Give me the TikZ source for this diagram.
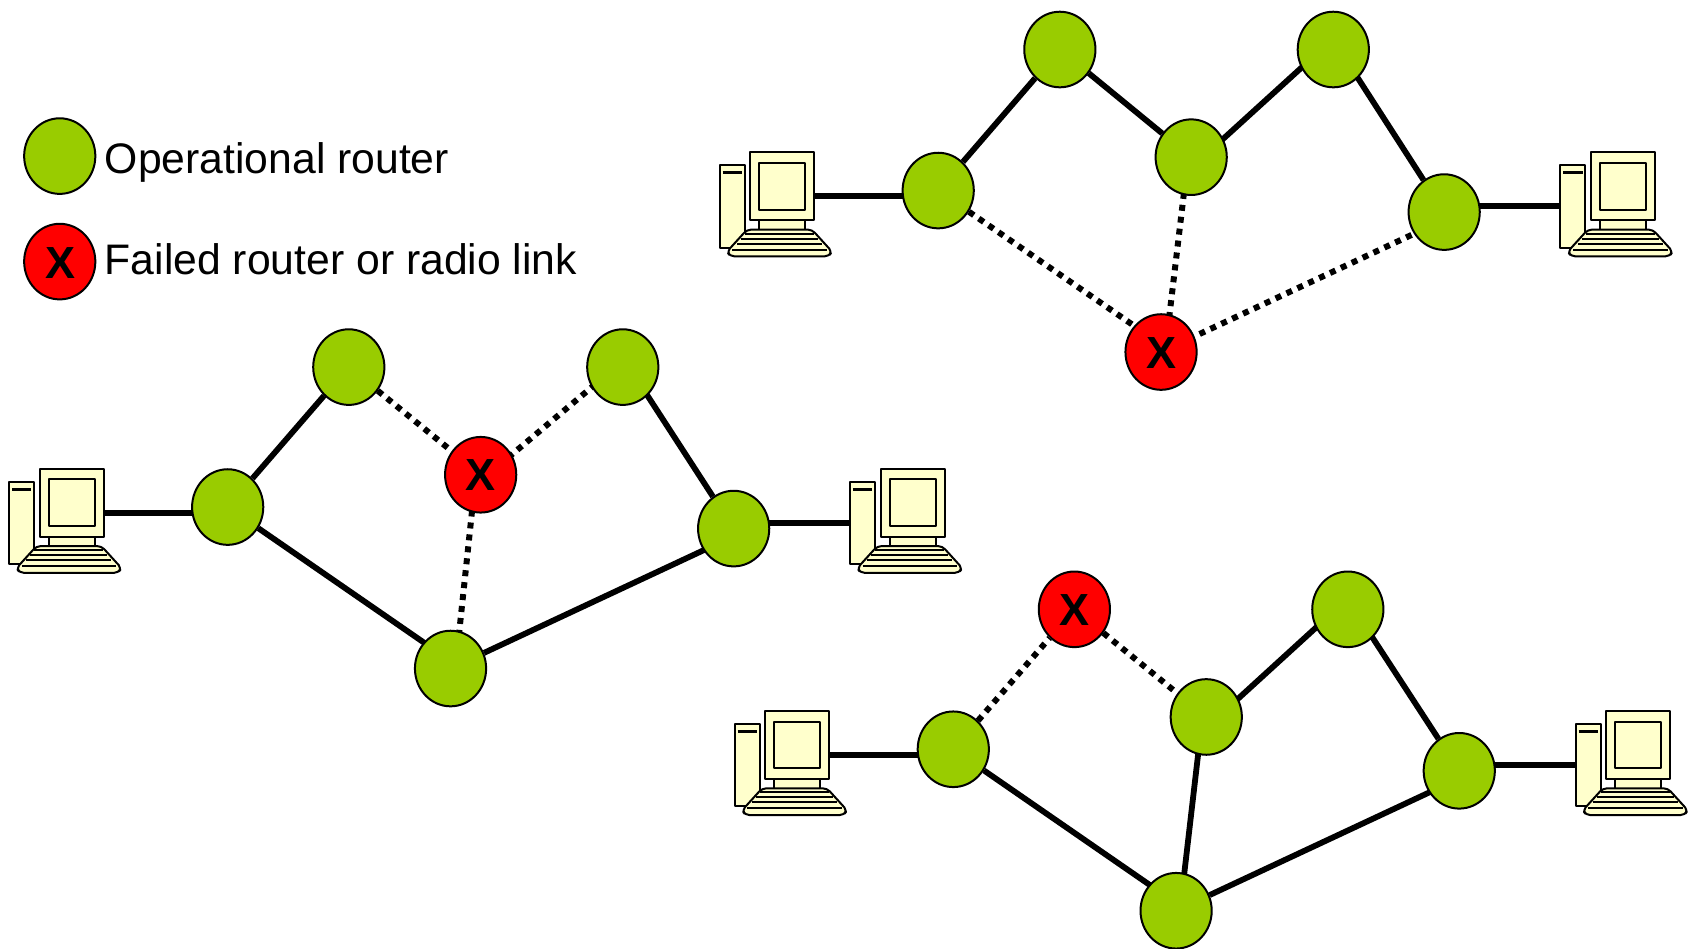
\documentclass[tikz,border=0pt]{standalone}
\usepackage{fontspec}
\setmainfont{Liberation Sans}
\usetikzlibrary{shapes.geometric,backgrounds}
\definecolor{rgreen}{HTML}{99CC00}
\definecolor{pcyellow}{HTML}{FFFFCC}
\tikzset{
  x=0.53827pt,y=-0.53827pt,
  router/.style={ellipse,draw=black,line width=1pt,fill=rgreen,inner sep=0pt,minimum width=35.6pt,minimum height=37.8pt},
  failed/.style={router,fill=red,text=black},
  xmark/.style={font=\fontsize{22.5}{22.5}\selectfont\bfseries},
  legendtext/.style={anchor=base west,inner sep=0pt,font=\fontsize{21.35}{21.35}\selectfont},
  link/.style={line width=2.9pt,draw=black},
  downlink/.style={line width=3pt,draw=black,dash pattern=on 3pt off 3pt},
  pcline/.style={draw=black,line width=1pt,fill=pcyellow,line join=round},
  pc/.pic={
    \begin{scope}[scale=0.3096,shift={(-58,-66)}]
      \coordinate (-portr) at (340,198);
      \coordinate (-portl) at (58,228);
      \path[pcline] (58,105) rectangle (133,352);
      \draw[line width=1.5pt] (67,127) -- (125,127);
      \path[pcline] (177,270) rectangle (315,305);
      \path[pcline] (150,66) rectangle (342,270);
      \path[pcline] (177,98) rectangle (315,238);
      \path[pcline,rounded corners=2pt] (140,298) -- (335,298) -- (395,364) -- (385,378) -- (90,378) -- (80,364) -- cycle;
      \draw[line width=0.9pt] (134,310) -- (341,310);
      \draw[line width=0.9pt] (122,325) -- (353,325);
      \draw[line width=0.9pt] (110,340) -- (365,340);
      \draw[line width=0.9pt] (96,358) -- (380,358);
    \end{scope}
  }
}
\begin{document}
\begin{tikzpicture}
\useasboundingbox (0,0) rectangle (1568,881);
% legend
\node[router] (lg) at (55.5,145) {};
\node[failed] (lr) at (55.5,243) {};
\node[xmark] (lx) at (56,244.5) {X};
\node[legendtext] (lgt) at (97,161.5) {Operational router};
\node[legendtext] (lrt) at (97,255) {Failed router or radio link};
% top network
\node[router] (a1) at (871.5,177) {};
\node[router] (a2) at (984.5,46) {};
\node[router] (a3) at (1106.5,146) {};
\node[router] (a4) at (1238.5,46) {};
\node[router] (a5) at (1341.5,197) {};
\node[failed] (a6) at (1078.5,327) {};
\node[xmark] (a6x) at (1078.8,327.7) {X};
% left network
\node[router] (b1) at (211.5,471) {};
\node[router] (b2) at (324,341) {};
\node[failed] (b3) at (446.5,441) {};
\node[xmark] (b3x) at (446.8,441.7) {X};
\node[router] (b4) at (578.5,341) {};
\node[router] (b5) at (681.5,491) {};
\node[router] (b6) at (418.5,621) {};
% bottom network
\node[router] (c1) at (885.5,696) {};
\node[failed] (c2) at (998,566) {};
\node[xmark] (c2x) at (998.3,566.7) {X};
\node[router] (c3) at (1120.5,666) {};
\node[router] (c4) at (1252,566) {};
\node[router] (c5) at (1355.5,716) {};
\node[router] (c6) at (1092.5,846) {};
\begin{pgfonlayer}{background}
  \path (668.5,141.5) pic (pa) {pc};
  \path (1449.5,141.5) pic (qa) {pc};
  \path (8.5,435.5) pic (pb) {pc};
  \path (789.5,435.5) pic (qb) {pc};
  \path (682.5,660.5) pic (pc) {pc};
  \path (1463.5,660.5) pic (qc) {pc};
\end{pgfonlayer}
\begin{scope}[on background layer]
  \draw[link] (a1) -- (a2);
  \draw[link] (a2) -- (a3);
  \draw[link] ([yshift=-5.4pt]a3.center) -- ([yshift=5.4pt]a4.center);
  \draw[link] ([yshift=4.8pt]a4.center) -- (a5);
  \draw[downlink] (a1) -- ([yshift=3.8pt]a6.center);
  \draw[downlink] ([xshift=-1.5pt]a3.center) -- ([xshift=2pt]a6.center);
  \draw[downlink] ([yshift=-3.8pt]a5.center) -- (a6);
  \draw[link] (pa-portr) -- (pa-portr -| a1);
  \draw[link] (qa-portl) -- (qa-portl -| a5);
  \draw[link] (b1) -- (b2);
  \draw[downlink] (b2) -- (b3);
  \draw[downlink] ([yshift=-3pt]b3.center) -- ([yshift=3pt]b4.center);
  \draw[link] ([yshift=4.8pt]b4.center) -- (b5);
  \draw[link] (b1) -- ([yshift=3.8pt]b6.center);
  \draw[link] (b6) -- ([yshift=-3.8pt]b5.center);
  \draw[downlink] ([xshift=-2.4pt]b3.center) -- ([xshift=2.4pt]b6.center);
  \draw[link] (pb-portr) -- (pb-portr -| b1);
  \draw[link] (qb-portl) -- (qb-portl -| b5);
  \draw[downlink] (c1) -- (c2);
  \draw[downlink] (c2) -- (c3);
  \draw[link] ([yshift=-5.4pt]c3.center) -- ([yshift=5.4pt]c4.center);
  \draw[link] ([yshift=4.8pt]c4.center) -- (c5);
  \draw[link] (c1) -- ([yshift=3.8pt]c6.center);
  \draw[link] ([xshift=-1.9pt]c3.center) -- ([xshift=1.9pt]c6.center);
  \draw[link] (c6) -- ([yshift=-3.8pt]c5.center);
  \draw[link] (pc-portr) -- (pc-portr -| c1);
  \draw[link] (qc-portl) -- (qc-portl -| c5);
\end{scope}
\end{tikzpicture}
\end{document}
